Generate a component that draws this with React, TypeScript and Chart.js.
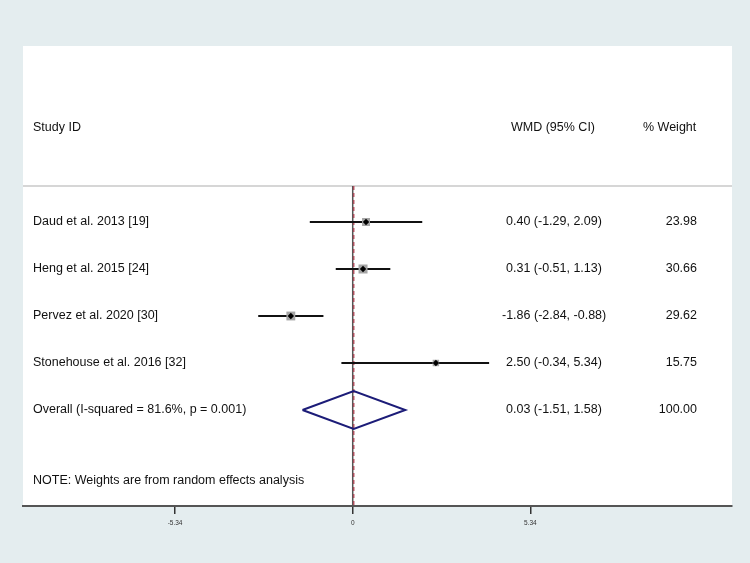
import React, { useEffect, useRef } from "react";
import { Chart, registerables } from "chart.js";

Chart.register(...registerables);

// ---- data ----
const studies = [
  "Daud et al. 2013 [19]",
  "Heng et al. 2015 [24]",
  "Pervez et al. 2020 [30]",
  "Stonehouse et al. 2016 [32]",
];
const estimates = [0.4, 0.31, -1.86, 2.5];
const ciLower = [-1.29, -0.51, -2.84, -0.34];
const ciUpper = [2.09, 1.13, -0.88, 5.34];
// upper end of each CI line as actually drawn in the figure (last one is clipped)
const drawnUpper = [2.09, 1.13, -0.88, 4.1];
const weights = [23.98, 30.66, 29.62, 15.75];

const overallLabel = "Overall (I-squared = 81.6%, p = 0.001)";
const overallEst = [0.03];
const overallLower = [-1.51];
const overallUpper = [1.58];
const overallWeight = [100.0];

const tickValues = [-5.34, 0, 5.34];
const tickLabels = ["-5.34", "0", "5.34"];

const headerStudy = "Study ID";
const headerEffect = "WMD (95% CI)";
const headerWeight = "% Weight";
const noteText = "NOTE: Weights are from random effects analysis";

// ---- layout constants ----
const X_MIN = -9.91;
const X_MAX = 11.4;
const Y_MIN = -3.745;
const Y_MAX = 6.043;
const HEADER_ROW = -2;
const RULE_ROW = -0.766;
const OVERALL_ROW = 4;
const NOTE_ROW = 5.51;
const FONT = "12.5px 'Liberation Sans', Arial, Helvetica, sans-serif";

const fmt = (v: number) => v.toFixed(2);

const decorPlugin = {
  id: "forestDecor",
  beforeDraw(chart: any) {
    const { ctx, chartArea, width, height } = chart;
    ctx.save();
    ctx.fillStyle = "#e4edef";
    ctx.fillRect(0, 0, width, height);
    ctx.fillStyle = "#ffffff";
    ctx.fillRect(chartArea.left, chartArea.top, chartArea.right - chartArea.left, chartArea.bottom - chartArea.top);
    ctx.restore();
  },
  beforeDatasetsDraw(chart: any) {
    const { ctx, chartArea } = chart;
    const y = chart.scales.y.getPixelForValue(RULE_ROW);
    ctx.save();
    ctx.strokeStyle = "#c9c9c9";
    ctx.lineWidth = 1.5;
    ctx.beginPath();
    ctx.moveTo(chartArea.left, y);
    ctx.lineTo(chartArea.right, y);
    ctx.stroke();
    ctx.restore();
  },
  afterDraw(chart: any) {
    const { ctx, chartArea } = chart;
    const ys = chart.scales.y;
    const leftX = chartArea.left + 10;
    const effX = chartArea.left + 483;
    const wRightX = chartArea.left + 674;
    ctx.save();
    ctx.font = FONT;
    ctx.fillStyle = "#111111";
    ctx.textBaseline = "middle";

    const hy = ys.getPixelForValue(HEADER_ROW);
    ctx.textAlign = "left";
    ctx.fillText(headerStudy, leftX, hy);
    ctx.fillText(headerEffect, effX + 5, hy);
    ctx.fillText(headerWeight, wRightX - 54, hy);

    const effText = (e: number, lo: number, hi: number) => `${fmt(e)} (${fmt(lo)}, ${fmt(hi)})`;
    const effStartX = (e: number) => (e < 0 ? effX - 4 : effX);

    studies.forEach((name, i) => {
      const y = ys.getPixelForValue(i);
      ctx.textAlign = "left";
      ctx.fillText(name, leftX, y);
      ctx.fillText(effText(estimates[i], ciLower[i], ciUpper[i]), effStartX(estimates[i]), y);
      ctx.textAlign = "right";
      ctx.fillText(fmt(weights[i]), wRightX, y);
    });

    const oy = ys.getPixelForValue(OVERALL_ROW);
    ctx.textAlign = "left";
    ctx.fillText(overallLabel, leftX, oy);
    ctx.fillText(effText(overallEst[0], overallLower[0], overallUpper[0]), effStartX(overallEst[0]), oy);
    ctx.textAlign = "right";
    ctx.fillText(fmt(overallWeight[0]), wRightX, oy);

    ctx.textAlign = "left";
    ctx.fillText(noteText, leftX, ys.getPixelForValue(NOTE_ROW));
    ctx.restore();
  },
};

export default function App() {
  const canvasRef = useRef<HTMLCanvasElement | null>(null);

  useEffect(() => {
    if (!canvasRef.current) return;
    const line = (pts: { x: number; y: number }[], color: string, width: number, extra: any = {}) => ({
      type: "scatter" as const,
      data: pts,
      showLine: true,
      borderColor: color,
      borderWidth: width,
      pointRadius: 0,
      fill: false,
      tension: 0,
      ...extra,
    });

    const DIAMOND_HALF = 0.404;
    const datasets: any[] = [
      {
        type: "scatter",
        data: estimates.map((e, i) => ({ x: e, y: i })),
        pointStyle: "rectRot",
        pointRadius: 3.2,
        backgroundColor: "#000000",
        borderColor: "#000000",
        borderWidth: 0,
      },
      {
        type: "scatter",
        data: estimates.map((e, i) => ({ x: e, y: i })),
        pointStyle: "rect",
        pointRadius: weights.map((w) => 1.15 * Math.sqrt(w)),
        backgroundColor: "#a5a5a5",
        borderColor: "#a5a5a5",
        borderWidth: 0,
      },
      ...studies.map((_, i) =>
        line(
          [
            { x: ciLower[i], y: i },
            { x: drawnUpper[i], y: i },
          ],
          "#111111",
          2
        )
      ),
      line(
        [
          { x: overallLower[0], y: OVERALL_ROW },
          { x: overallEst[0], y: OVERALL_ROW - DIAMOND_HALF },
          { x: overallUpper[0], y: OVERALL_ROW },
          { x: overallEst[0], y: OVERALL_ROW + DIAMOND_HALF },
          { x: overallLower[0], y: OVERALL_ROW },
        ],
        "#1c1c78",
        2
      ),
      line(
        [
          { x: overallEst[0], y: RULE_ROW },
          { x: overallEst[0], y: Y_MAX },
        ],
        "#b0505e",
        1.5,
        { borderDash: [4, 3] }
      ),
      line(
        [
          { x: 0, y: RULE_ROW },
          { x: 0, y: Y_MAX },
        ],
        "#555555",
        1.5
      ),
    ];

    const chart = new Chart(canvasRef.current, {
      type: "scatter",
      data: { datasets },
      options: {
        responsive: false,
        animation: false,
        devicePixelRatio: 1,
        layout: { padding: { left: 23, right: 18, top: 46, bottom: 0 } },
        plugins: { legend: { display: false }, tooltip: { enabled: false } },
        scales: {
          x: {
            type: "linear",
            min: X_MIN,
            max: X_MAX,
            afterBuildTicks: (s: any) => {
              s.ticks = tickValues.map((v) => ({ value: v }));
            },
            afterFit: (s: any) => {
              s.height = 57;
            },
            ticks: {
              autoSkip: false,
              maxRotation: 0,
              padding: 5,
              color: "#333333",
              font: { size: 6.5, family: "'Liberation Sans', Arial, sans-serif" },
              callback: (_v: any, i: number) => tickLabels[i],
            },
            grid: {
              drawOnChartArea: false,
              drawTicks: true,
              tickLength: 8,
              color: "#333333",
              lineWidth: 1.5,
            },
            border: { display: true, color: "#555555", width: 2 },
          },
          y: {
            type: "linear",
            min: Y_MIN,
            max: Y_MAX,
            reverse: true,
            display: false,
          },
        },
      } as any,
      plugins: [decorPlugin],
    });
    return () => chart.destroy();
  }, []);

  return (
    <div style={{ position: "fixed", left: 0, top: 0, width: 750, height: 563 }}>
      <canvas ref={canvasRef} width={750} height={563} style={{ display: "block" }} />
    </div>
  );
}
